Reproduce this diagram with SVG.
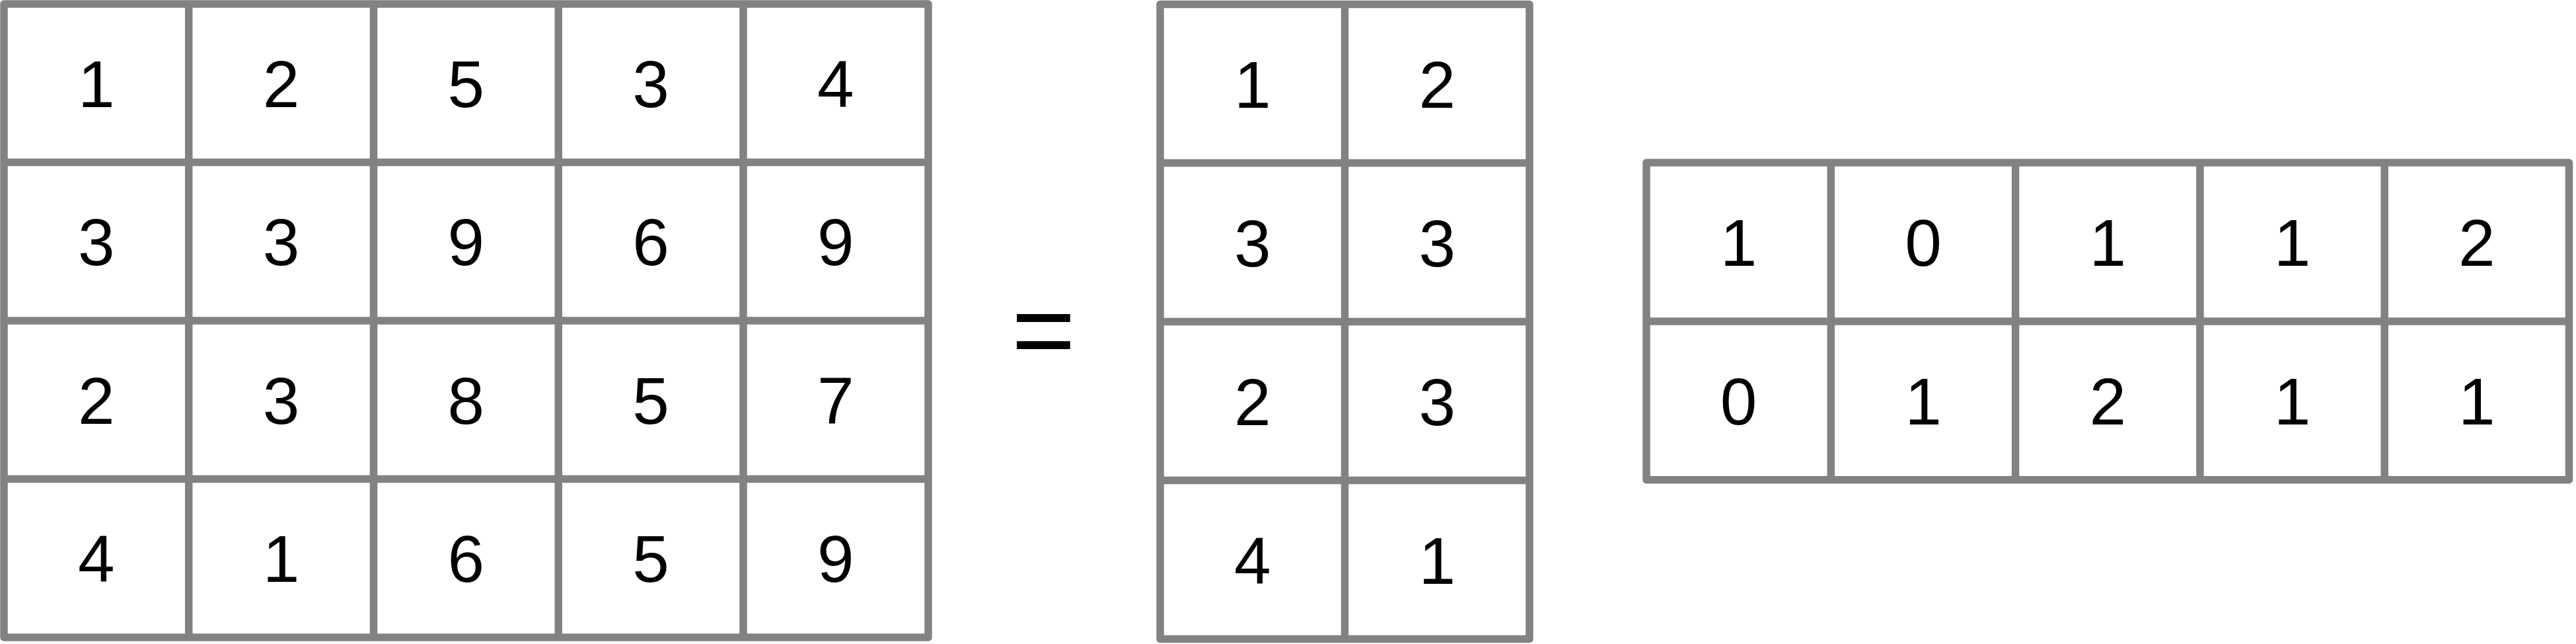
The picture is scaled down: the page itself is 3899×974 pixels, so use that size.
<svg xmlns="http://www.w3.org/2000/svg" width="3899" height="974" viewBox="0 0 3899 974">
<style>
.grid{fill:none;stroke:#828282;stroke-width:11.5;stroke-linejoin:round;stroke-linecap:butt}
.num{font-family:"Liberation Sans",Arial,sans-serif;font-size:100px;fill:#000;text-anchor:middle}
.op{font-family:"Liberation Sans",Arial,sans-serif;font-size:166px;fill:#000;text-anchor:middle}
</style>
<rect width="3899" height="974" fill="#fff"/>
<g id="matrix-left">
<path class="grid" d="M6 6H1405V964H6Z M285.75 6V964 M565.5 6V964 M845.25 6V964 M1125 6V964 M6 245.5H1405 M6 485H1405 M6 724.5H1405"/>
<g class="num">
<text x="145.9" y="161.75">1</text><text x="425.6" y="161.75">2</text><text x="705.4" y="161.75">5</text><text x="985.1" y="161.75">3</text><text x="1264.9" y="161.75">4</text>
<text x="145.9" y="401.25">3</text><text x="425.6" y="401.25">3</text><text x="705.4" y="401.25">9</text><text x="985.1" y="401.25">6</text><text x="1264.9" y="401.25">9</text>
<text x="145.9" y="640.75">2</text><text x="425.6" y="640.75">3</text><text x="705.4" y="640.75">8</text><text x="985.1" y="640.75">5</text><text x="1264.9" y="640.75">7</text>
<text x="145.9" y="880.25">4</text><text x="425.6" y="880.25">1</text><text x="705.4" y="880.25">6</text><text x="985.1" y="880.25">5</text><text x="1264.9" y="880.25">9</text>
</g>
</g>
<g id="equals">
<text class="op" x="1579.5" y="556">=</text>
</g>
<g id="matrix-middle">
<path class="grid" d="M1756 6.5H2315V966.5H1756Z M2035.5 6.5V966.5 M1756 246.5H2315 M1756 486.5H2315 M1756 726.5H2315"/>
<g class="num">
<text x="1895.75" y="162.5">1</text><text x="2175.25" y="162.5">2</text>
<text x="1895.75" y="402.5">3</text><text x="2175.25" y="402.5">3</text>
<text x="1895.75" y="642.5">2</text><text x="2175.25" y="642.5">3</text>
<text x="1895.75" y="882.5">4</text><text x="2175.25" y="882.5">1</text>
</g>
</g>
<g id="matrix-right">
<path class="grid" d="M2492 246H3888.5V725.8H2492Z M2771.3 246V725.8 M3050.6 246V725.8 M3329.9 246V725.8 M3609.2 246V725.8 M2492 485.9H3888.5"/>
<g class="num">
<text x="2631.65" y="401.5">1</text><text x="2910.95" y="401.5">0</text><text x="3190.25" y="401.5">1</text><text x="3469.55" y="401.5">1</text><text x="3748.85" y="401.5">2</text>
<text x="2631.65" y="641.5">0</text><text x="2910.95" y="641.5">1</text><text x="3190.25" y="641.5">2</text><text x="3469.55" y="641.5">1</text><text x="3748.85" y="641.5">1</text>
</g>
</g>
</svg>
